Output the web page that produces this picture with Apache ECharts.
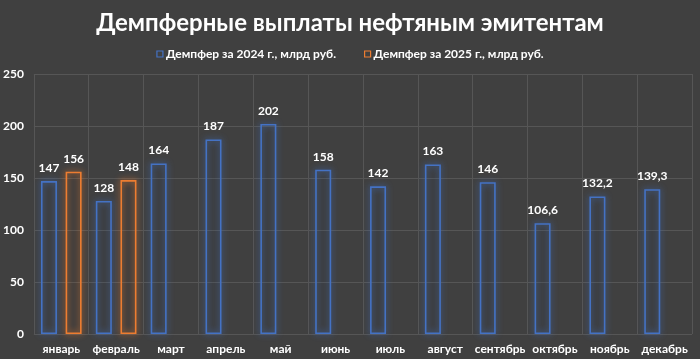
<!DOCTYPE html>
<html><head><meta charset="utf-8">
<script src="https://cdn.jsdelivr.net/npm/echarts@6/dist/echarts.min.js"></script>
<style>html,body{margin:0;padding:0;background:#404040;}#c{width:700px;height:359px;}</style>
</head><body><div id="c"></div>
<script>
const months = ['январь','февраль','март','апрель','май','июнь','июль','август','сентябрь','октябрь','ноябрь','декабрь'];
const damper2024 = [147,128,164,187,202,158,142,163,146,106.6,132.2,139.3];
const damper2025 = [156,148,null,null,null,null,null,null,null,null,null,null];
const seriesNames = ['Демпфер за 2024 г., млрд руб.','Демпфер за 2025 г., млрд руб.'];
const titleText = 'Демпферные выплаты нефтяным эмитентам';

const fnt = 'Lato';
const chart = echarts.init(document.getElementById('c'));
const lbl = {show:true, position:'top', distance:7, color:'#fff', fontFamily:fnt, fontWeight:'bold', fontSize:12,
  formatter: p => String(p.value).replace('.', ',')};
function mk(name, data, col){
  return {name, type:'bar', data, barWidth:16, barGap:'54%',
    itemStyle:{color:'rgba(0,0,0,0.03)', borderColor:col, borderWidth:1.6, shadowColor:col, shadowBlur:6},
    label:lbl};
}
chart.setOption({
  backgroundColor:'#404040',
  animation:false,
  title:{text:titleText, left:'center', top:6, textStyle:{color:'#fff', fontFamily:fnt, fontWeight:'bold', fontSize:24}},
  legend:{top:43, left:'center', itemWidth:6, itemHeight:6, itemGap:28, icon:'rect',
    textStyle:{color:'#fff', fontFamily:fnt, fontWeight:'bold', fontSize:12, padding:[0,0,0,-2]},
    data:[{name:seriesNames[0], itemStyle:{color:'rgba(0,0,0,0)', borderColor:'#4472C4', borderWidth:1.2}},
          {name:seriesNames[1], itemStyle:{color:'rgba(0,0,0,0)', borderColor:'#ED7D31', borderWidth:1.2}}]},
  grid:{left:32, right:8, top:74, bottom:25},
  xAxis:{type:'category', data:months,
    axisLine:{show:false}, axisTick:{show:false},
    splitLine:{show:true, lineStyle:{color:'#565656', width:1}},
    axisLabel:{color:'#fff', fontFamily:fnt, fontWeight:'bold', fontSize:12, margin:9, interval:0}},
  yAxis:{type:'value', min:0, max:250, interval:50,
    axisLine:{show:false}, axisTick:{show:false},
    splitLine:{lineStyle:{color:'#565656', width:1}},
    axisLabel:{color:'#fff', fontFamily:fnt, fontWeight:'bold', fontSize:12, margin:10}},
  series:[mk(seriesNames[0], damper2024, '#4472C4'), mk(seriesNames[1], damper2025, '#ED7D31')]
});
</script></body></html>
